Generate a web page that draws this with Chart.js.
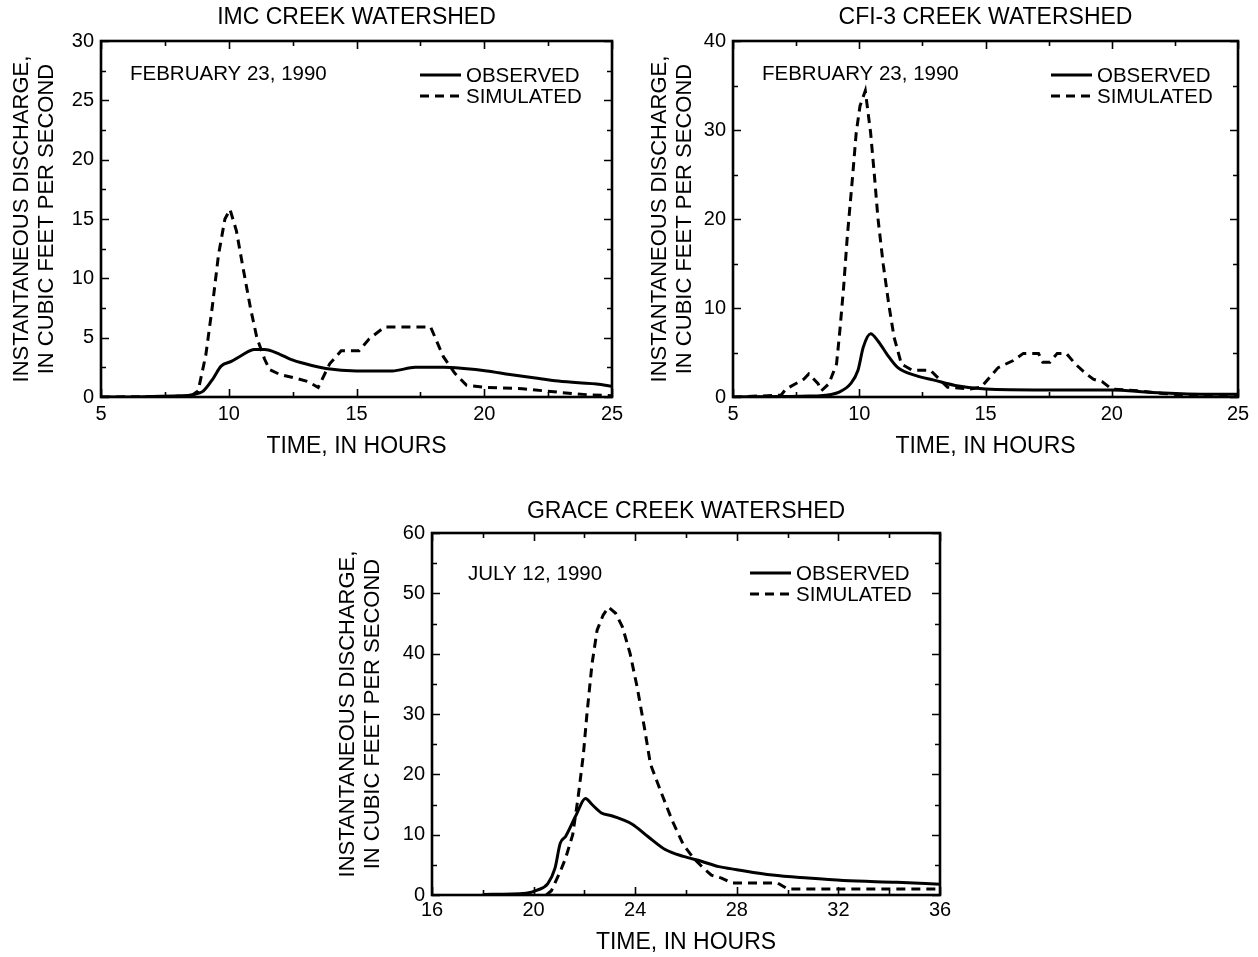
<!DOCTYPE html>
<html>
<head>
<meta charset="utf-8">
<script src="https://cdn.jsdelivr.net/npm/chart.js@4/dist/chart.umd.min.js"></script>
<style>
  html, body { margin: 0; padding: 0; background: #fff; }
  body { width: 1258px; height: 957px; position: relative; overflow: hidden; }
  .panel { position: absolute; }
</style>
</head>
<body>
<div class="panel" style="left:0px;top:0px;"><canvas id="imc" width="640" height="470"></canvas></div>
<div class="panel" style="left:630px;top:0px;"><canvas id="cfi" width="628" height="470"></canvas></div>
<div class="panel" style="left:320px;top:490px;"><canvas id="grace" width="640" height="467"></canvas></div>
<script>
// ---- IMC Creek watershed, February 23, 1990 ----
const imcObsHours = [5, 6, 7, 8, 8.6, 9.0, 9.4, 9.7, 10.1, 10.5, 11.0, 11.4, 12.0, 12.4, 13.0, 13.8, 15.0, 16.4, 17.3, 18.4, 19.2, 20.1, 21.0, 22.0, 22.9, 23.7, 24.4, 25];
const imcObserved = [0, 0, 0.05, 0.1, 0.2, 0.5, 1.6, 2.6, 3.0, 3.5, 4.0, 4.0, 3.6, 3.2, 2.8, 2.4, 2.2, 2.2, 2.5, 2.5, 2.4, 2.2, 1.9, 1.6, 1.35, 1.2, 1.1, 0.9];
const imcSimHours = [5, 8.5, 8.8, 9.1, 9.35, 9.6, 9.85, 10.05, 10.3, 10.55, 10.85, 11.1, 11.4, 11.6, 12.0, 12.6, 13.1, 13.5, 13.95, 14.4, 15.1, 15.5, 16.1, 17.9, 18.4, 18.85, 19.3, 20.1, 21.5, 22.9, 24.0, 25];
const imcSimulated = [0, 0.05, 0.5, 3.5, 7.5, 12, 15, 15.8, 14, 11, 7.5, 5, 3.2, 2.3, 1.9, 1.6, 1.3, 0.8, 2.8, 3.9, 3.9, 4.9, 5.9, 5.9, 3.4, 2.0, 1.0, 0.8, 0.7, 0.4, 0.2, 0.1];

// ---- CFI-3 Creek watershed, February 23, 1990 ----
const cfiObsHours = [5, 7, 8, 8.66, 9.2, 9.66, 9.95, 10.16, 10.45, 10.74, 11.1, 11.53, 12.25, 12.96, 13.8, 15.0, 17.3, 20.0, 21.6, 23.0, 25];
const cfiObserved = [0, 0.05, 0.1, 0.2, 0.55, 1.5, 3.0, 5.6, 7.1, 6.3, 4.8, 3.3, 2.4, 1.9, 1.3, 0.9, 0.8, 0.8, 0.5, 0.35, 0.3];
const cfiSimHours = [5, 6.9, 7.1, 7.8, 8.0, 8.37, 8.5, 8.8, 9.1, 9.23, 9.38, 9.52, 9.74, 9.88, 10.03, 10.24, 10.45, 10.6, 10.74, 10.95, 11.17, 11.38, 11.67, 12.1, 12.82, 13.1, 13.5, 14.4, 14.83, 15.1, 15.5, 16.1, 16.5, 17.1, 17.27, 17.55, 17.84, 18.2, 18.56, 18.99, 19.27, 19.63, 20.0, 21.0, 22.0, 23.0, 25];
const cfiSimulated = [0, 0.2, 0.9, 2.0, 2.6, 1.5, 0.7, 1.5, 3.7, 7.4, 12.3, 17.8, 24.9, 29.7, 32.7, 34.4, 29.7, 24.9, 20.1, 14.9, 10.4, 6.7, 3.7, 3.0, 3.0, 2.2, 1.1, 0.9, 1.1, 2.0, 3.3, 4.1, 4.9, 4.9, 3.9, 3.9, 4.9, 4.9, 3.7, 2.6, 2.0, 1.7, 0.9, 0.7, 0.4, 0.2, 0.1];

// ---- Grace Creek watershed, July 12, 1990 ----
const graceObsHours = [18, 19.7, 20.14, 20.56, 20.84, 21.05, 21.26, 21.68, 22.04, 22.3, 22.67, 23.1, 23.5, 23.9, 24.5, 25.2, 25.9, 26.6, 27.3, 28.0, 29.4, 30.8, 32.2, 34.3, 36];
const graceObserved = [0.1, 0.3, 0.8, 1.9, 4.4, 8.6, 9.7, 13.3, 16.0, 15.0, 13.6, 13.1, 12.5, 11.7, 9.7, 7.5, 6.4, 5.6, 4.7, 4.2, 3.3, 2.8, 2.4, 2.1, 1.8];
const graceSimHours = [20.5, 20.7, 21.05, 21.26, 21.54, 21.75, 21.96, 22.1, 22.3, 22.5, 22.74, 22.95, 23.23, 23.5, 23.8, 24.08, 24.36, 24.6, 25.05, 25.47, 25.9, 26.3, 26.7, 27.0, 27.4, 27.8, 29.6, 30.0, 36];
const graceSimulated = [0, 0.7, 3.9, 6.1, 10, 16.1, 23.3, 30, 38.3, 43.9, 46.4, 47.7, 46.7, 44.4, 40, 34.4, 27.8, 21.7, 16.7, 12.2, 8.3, 6.1, 4.4, 3.3, 2.8, 2.0, 2.0, 1.0, 1.0];

const seriesLabels = ['OBSERVED', 'SIMULATED'];
const yTitle = ['INSTANTANEOUS DISCHARGE,', 'IN CUBIC FEET PER SECOND'];
const xTitle = 'TIME, IN HOURS';

const FONT = '"Liberation Sans", Arial, Helvetica, sans-serif';
const INK = '#000';

function pairs(xs, ys) { return xs.map((h, i) => ({ x: h, y: ys[i] })); }

// Plot frame with inward major/minor tick marks on all four sides,
// plus the date note and the line-style key inside the plot.
const panelDecor = {
  id: 'panelDecor',
  afterDatasetsDraw(chart, args, opts) {
    const { ctx, chartArea: a, scales: { x, y } } = chart;
    ctx.save();
    ctx.strokeStyle = INK;
    ctx.lineCap = 'butt';

    const drawTicks = (scale, horizontal) => {
      const vals = scale.ticks.map(t => t.value);
      const marks = [];
      vals.forEach((v, i) => {
        marks.push({ v, len: opts.major });
        if (i < vals.length - 1) marks.push({ v: (v + vals[i + 1]) / 2, len: opts.minor });
      });
      ctx.lineWidth = 1.6;
      marks.forEach(m => {
        const p = Math.round(scale.getPixelForValue(m.v)) + 0.5;
        ctx.beginPath();
        if (horizontal) {
          ctx.moveTo(p, a.bottom); ctx.lineTo(p, a.bottom - m.len);
          ctx.moveTo(p, a.top); ctx.lineTo(p, a.top + m.len);
        } else {
          ctx.moveTo(a.left, p); ctx.lineTo(a.left + m.len, p);
          ctx.moveTo(a.right, p); ctx.lineTo(a.right - m.len, p);
        }
        ctx.stroke();
      });
    };
    drawTicks(x, true);
    drawTicks(y, false);

    ctx.lineWidth = 2.6;
    ctx.strokeRect(a.left, a.top, a.right - a.left, a.bottom - a.top);

    // date note
    ctx.fillStyle = INK;
    ctx.font = `${opts.textSize}px ${FONT}`;
    ctx.textBaseline = 'middle';
    ctx.textAlign = 'left';
    ctx.fillText(opts.note, a.left + opts.noteDx, a.top + opts.noteDy);

    // line-style key
    const tx = a.right - opts.keyDx;
    chart.data.datasets.forEach((ds, i) => {
      const ry = a.top + opts.keyDy + i * 21;
      ctx.save();
      ctx.lineWidth = ds.borderWidth;
      ctx.setLineDash(ds.borderDash || []);
      ctx.beginPath();
      ctx.moveTo(tx - 46, ry);
      ctx.lineTo(tx - 5, ry);
      ctx.stroke();
      ctx.restore();
      ctx.fillText(ds.label, tx, ry + 1);
    });
    ctx.restore();
  }
};

function makePanel(id, cfg) {
  const canvas = document.getElementById(id);
  return new Chart(canvas, {
    type: 'line',
    data: {
      datasets: [
        {
          label: seriesLabels[0],
          data: pairs(cfg.obsHours, cfg.observed),
          borderColor: INK, borderWidth: 3,
          pointRadius: 0, cubicInterpolationMode: 'monotone',
          fill: false
        },
        {
          label: seriesLabels[1],
          data: pairs(cfg.simHours, cfg.simulated),
          borderColor: INK, borderWidth: 3, borderDash: [9, 6],
          pointRadius: 0, tension: 0,
          fill: false
        }
      ]
    },
    options: {
      responsive: false,
      animation: false,
      devicePixelRatio: 1,
      layout: { padding: { left: 0, right: cfg.padRight, top: 0, bottom: 0 } },
      plugins: {
        legend: { display: false },
        tooltip: { enabled: false },
        title: {
          display: true,
          fullSize: false,
          text: cfg.title,
          color: INK,
          font: { family: FONT, size: 23, weight: 'normal', lineHeight: 1.2 },
          padding: { top: cfg.titleTop, bottom: cfg.titleBottom }
        },
        panelDecor: {
          major: 8, minor: 5, textSize: 20.5,
          note: cfg.note, noteDx: cfg.noteDx, noteDy: cfg.noteDy,
          keyDx: cfg.keyDx, keyDy: cfg.keyDy
        }
      },
      scales: {
        x: {
          type: 'linear',
          min: cfg.xMin, max: cfg.xMax,
          grid: { display: false, drawTicks: false },
          border: { display: false },
          ticks: {
            stepSize: cfg.xStep, color: INK, padding: cfg.xTickPad,
            font: { family: FONT, size: 20 },
            maxRotation: 0, autoSkip: false
          },
          title: {
            display: true, text: xTitle, color: INK,
            font: { family: FONT, size: 23, lineHeight: 1.2 },
            padding: { top: 0, bottom: cfg.xTitleBottom }
          },
          afterFit(scale) { scale.height = cfg.xHeight; }
        },
        y: {
          type: 'linear',
          min: 0, max: cfg.yMax,
          grid: { display: false, drawTicks: false },
          border: { display: false },
          ticks: {
            stepSize: cfg.yStep, color: INK, padding: 7,
            font: { family: FONT, size: 20 }
          },
          title: {
            display: true, text: yTitle, color: INK,
            font: { family: FONT, size: 22, lineHeight: 1.13 },
            padding: { top: cfg.yTitleTop, bottom: 0 }
          },
          afterFit(scale) { scale.width = cfg.yWidth; }
        }
      }
    },
    plugins: [panelDecor]
  });
}

makePanel('imc', {
  title: 'IMC CREEK WATERSHED', note: 'FEBRUARY 23, 1990',
  obsHours: imcObsHours, observed: imcObserved, simHours: imcSimHours, simulated: imcSimulated,
  xMin: 5, xMax: 25, xStep: 5, yMax: 30, yStep: 5,
  padRight: 28, titleTop: 4, titleBottom: 9.4,
  yWidth: 101, yTitleTop: 9.6, xHeight: 73, xTickPad: 5, xTitleBottom: 10,
  noteDx: 29, noteDy: 33, keyDx: 146, keyDy: 34
});

makePanel('cfi', {
  title: 'CFI-3 CREEK WATERSHED', note: 'FEBRUARY 23, 1990',
  obsHours: cfiObsHours, observed: cfiObserved, simHours: cfiSimHours, simulated: cfiSimulated,
  xMin: 5, xMax: 25, xStep: 5, yMax: 40, yStep: 10,
  padRight: 20, titleTop: 4, titleBottom: 9.4,
  yWidth: 103, yTitleTop: 17.6, xHeight: 73, xTickPad: 5, xTitleBottom: 10,
  noteDx: 29, noteDy: 33, keyDx: 141, keyDy: 34
});

makePanel('grace', {
  title: 'GRACE CREEK WATERSHED', note: 'JULY 12, 1990',
  obsHours: graceObsHours, observed: graceObserved, simHours: graceSimHours, simulated: graceSimulated,
  xMin: 16, xMax: 36, xStep: 4, yMax: 60, yStep: 10,
  padRight: 20, titleTop: 8, titleBottom: 7.4,
  yWidth: 112, yTitleTop: 15.6, xHeight: 62, xTickPad: 3, xTitleBottom: 1,
  noteDx: 36, noteDy: 41, keyDx: 144, keyDy: 40
});
</script>
</body>
</html>
